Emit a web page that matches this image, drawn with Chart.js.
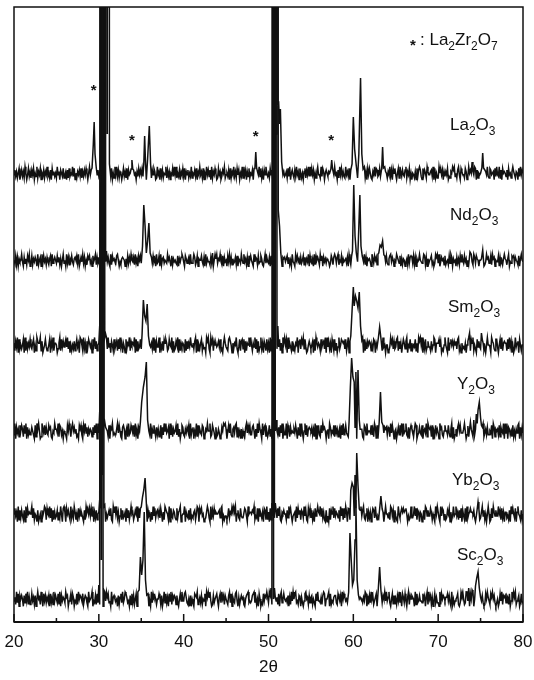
<!DOCTYPE html>
<html>
<head>
<meta charset="utf-8">
<script src="https://cdn.jsdelivr.net/npm/chart.js@4.4.0/dist/chart.umd.min.js"></script>
<style>
  html, body { margin: 0; padding: 0; background: #fff; }
</style>
</head>
<body>
<canvas id="xrdChart" width="534" height="680"></canvas>
<script>
// axis
const xTicks = [20, 30, 40, 50, 60, 70, 80];
const minorTicks = [25, 35, 45, 55, 65, 75];

// samples, top to bottom
const sampleNames = ['La2O3', 'Nd2O3', 'Sm2O3', 'Y2O3', 'Yb2O3', 'Sc2O3'];
const stackOffsets = [448, 361, 276, 190, 107, 22];
const noiseScale = [1.6, 1.5, 1.9, 1.9, 1.9, 1.8];

// La2Zr2O7 peaks marked with *
const starAngles = [29.4, 33.9, 48.5, 57.4];

// baseline noise, one digit every 0.1 deg from 20
const laNoise = `4736258147 3629514836 2748153926 4815372649 3527184635 2946175382 4617283549 3815264738 2637485159 4728163547
3518264937 2647381529 4937265148 3628174539 2745163847 4839261573 3527486129 4618372549 2736154839 4925371648
3816472539 2547381649 4628153947 3719264851 2846137592 4537182649 3628471539 2947163825 4718352649 3826174953
5284716394 3917258463 4628391574 2739461852 5168274939 3847152694 4293861575 3658127494 5172948363 2946381757
4381729564 3759261848 5216493873 4837152965 2649371858 4158296374 3792648151 5426183797 3184752964 4673918252
2958471636 4813265979 3527941864 4286139575 3649817254 5138276493 2874561839 4392718565 3718452696 4265183947 5`;
const ndNoise = `5382716459 4173628591 3826475192 5719384627 4268193575 3847261593 5193726484 2675839147 4937152868 3518469273
5286739145 4731928564 3895142676 5162837495 4729361858 3648192576 5273846193 4819267355 3957418264 5328164797
4186357293 3597248165 5842719364 4273815969 3659428174 5184937263 4728165395 3946271858 5319476283 4862159374
3718294656 5249381767 4683725194 3195846273 5827364918 4361928575 2958174636 5413862797 3792548164 4637195283
5281946375 3849271656 4196385729 5734162848 3268947515 4975381626 5146293787 3827164595 4359827163 5682413979
3914756282 4528397164 5173628495 3846152779 4297386515 5638124967 3482967154 4817352696 5269143878 3754281695 4`;
const smNoise = `6274918353 5819273648 4368152976 6927135842 3581749266 5136928474 6849371525 3725846198 5293617486 4618593725
6357281949 3946175283 5728394616 4183659275 6591827348 3827461595 5463928174 4915372868 6238549172 3759182646
5182736495 4637918253 6825341979 3196827564 5748231696 4328975163 6593148278 3817265949 5264938172 4936175283
6192837455 3748261969 5819364272 4265917838 6938412575 3571829646 5284673919 4736185282 6149358767 3825917464
5371648293 4918263757 6253871649 3687294515 5124968373 4892736158 6379154826 3548261979 5916382474 4273598166
6847132595 3192685747 5738924163 4361579828 6925318474 3786241595 5419763288 4158392676 6283947151 3946718525 5`;
const yNoise = `3917462858 6284917353 4753182969 5129648374 3867215496 6492873515 4318596279 5746231868 3185947264 6527384919
4963128576 5281769343 3694852178 6157293486 4829361758 5372846915 3916485273 6248173959 4571938264 5839261487
3264758193 6715392846 4387126595 5923864172 3641275989 6158493267 4892735161 5327948683 3785162949 6419378252
4826193757 5372849163 3918627454 6485173929 4159382676 5736291848 3284967515 6197354828 4625718393 5843269174
3579142866 6218739455 4836297181 5395184767 3762948515 6147385929 4593271686 5269813474 3815649297 6728153846
4196732585 5384269171 3627958444 6951382676 4273619858 5819246373 3548197265 6382754919 4917635282 5264891737 4`;
const ybNoise = `5846192737 4271938565 6938254171 3517469828 5493817263 4726395189 6185742936 3962518474 5317296858 4849163725
6283759415 3574821969 5936148273 4618372595 6247591838 3895263174 5162948367 4738516299 6529184376 3283679145
5916437282 4367259818 6845123697 3192748565 5673891424 4248365979 6915732843 3387419566 5769243818 4536187292
6182947357 3849216575 5273968414 4619385727 6394721858 3725184696 5948362171 4182759384 6537194828 3961842575
5428316979 4793258163 6158739424 3847261595 5362984717 4219536868 6785142393 3594827616 5137298474 4862531959
6319487252 3758162494 5946273817 4281935686 6573148292 3694725159 5128396474 4957283616 6342719585 3816954272 5`;
const scNoise = `4629381757 5173849262 3846271595 6295184736 4718362947 5382917465 3967145828 6143829576 4825763194 5691437283
3278516949 6834192675 4517268393 5986341728 3725819464 6349275181 4193867525 5862714938 3618492757 6273158494
4896325171 5318769246 3725481969 6941273558 4168395727 5527938164 3894162575 6215789343 4789362518 5132847696
3974285164 6281793585 4537162949 5893427616 3148956273 6725318494 4362798155 5918243677 3286471958 6453192784
4819273565 5364981727 3957246818 6128375949 4693158272 5274936186 3841692757 6519283474 4385716929 5726148363
3192857646 6847319252 4568213979 5239746185 3915682474 6473128596 4286957313 5138492767 3762814959 6924571383 4`;

// peaks [2theta, height above baseline]; 3000 = off scale
const laPeaks = [[29.2, 6], [29.35, 30], [29.45, 52], [29.55, 20], [29.7, 6],
  [30.4, 12], [30.5, 3000], [30.6, 40], [30.7, 3000], [30.8, 40], [30.9, 3000], [31.0, 40], [31.1, 3000], [31.25, 10],
  [33.8, 5], [33.9, 14], [34.0, 5],
  [35.3, 10], [35.4, 38], [35.5, 12], [35.75, 15], [35.95, 48], [36.1, 10],
  [48.4, 6], [48.5, 22], [48.6, 6],
  [50.6, 10], [50.75, 55], [50.9, 40], [51.0, 3000], [51.1, 70], [51.2, 71], [51.3, 50], [51.4, 65], [51.55, 12],
  [57.35, 5], [57.45, 14], [57.55, 5],
  [59.85, 10], [60.0, 57], [60.15, 25], [60.35, 8], [60.65, 20], [60.85, 96], [61.0, 20], [61.15, 5],
  [63.35, 6], [63.45, 27], [63.55, 6],
  [74.0, 12], [75.15, 6], [75.25, 21], [75.35, 6]];
const ndPeaks = [[30.2, 13], [30.5, 3000], [30.6, 40], [30.7, 3000], [30.9, 10],
  [35.15, 15], [35.3, 56], [35.45, 35], [35.6, 8], [35.75, 20], [35.9, 38], [36.05, 8],
  [43.4, 8],
  [50.7, 12], [50.85, 45], [51.0, 3000], [51.15, 51], [51.3, 35], [51.45, 8],
  [59.9, 10], [60.05, 76], [60.2, 25], [60.35, 8], [60.6, 22], [60.77, 66], [60.9, 15], [61.05, 5],
  [63.0, 8], [63.15, 16], [63.3, 14], [63.45, 20], [63.6, 6],
  [73.75, 9], [75.25, 11]];
const smPeaks = [[30.1, 20], [30.4, 3000], [30.5, 40], [30.6, 3000], [30.8, 12],
  [35.1, 12], [35.25, 46], [35.4, 30], [35.55, 25], [35.7, 42], [35.85, 10],
  [50.7, 15], [50.9, 3000], [51.1, 20],
  [59.7, 10], [59.85, 35], [60.0, 59], [60.1, 40], [60.25, 50], [60.4, 45], [60.55, 38], [60.7, 54], [60.85, 20], [61.0, 6],
  [62.95, 8], [63.1, 19], [63.25, 8],
  [73.7, 13], [75.1, 13]];
const yPeaks = [[30.1, 20], [30.4, 3000], [30.45, 40], [30.5, 3000], [30.7, 10],
  [34.9, 10], [35.05, 30], [35.25, 45], [35.45, 55], [35.6, 70], [35.75, 12],
  [50.5, 12], [50.7, 3000], [50.9, 12],
  [59.5, 10], [59.65, 45], [59.8, 74], [59.95, 55], [60.1, 50], [60.3, 60], [60.55, 62], [60.7, 12],
  [63.05, 10], [63.2, 40], [63.35, 10],
  [73.5, 6], [73.8, 10], [74.2, 12], [74.5, 18], [74.7, 22], [74.85, 30], [75.0, 14], [75.2, 5]];
const ybPeaks = [[30.1, 15], [30.3, 3000], [30.4, 40], [30.5, 3000], [30.7, 10],
  [35.0, 8], [35.15, 18], [35.3, 25], [35.45, 37], [35.6, 12],
  [50.4, 12], [50.6, 3000], [50.8, 12],
  [59.5, 6], [59.7, 25], [59.85, 32], [60.0, 28], [60.2, 40], [60.4, 62], [60.55, 30], [60.7, 6],
  [63.1, 6], [63.25, 19], [63.4, 6],
  [74.6, 6], [74.7, 13], [74.8, 6]];
const scPeaks = [[30.0, 15], [30.2, 3000], [30.3, 40], [30.4, 3000], [30.6, 10],
  [34.75, 10], [34.9, 43], [35.05, 25], [35.2, 40], [35.35, 88], [35.5, 20], [35.65, 5],
  [50.3, 12], [50.5, 3000], [50.7, 12],
  [59.45, 8], [59.6, 67], [59.75, 40], [59.9, 15], [60.05, 20], [60.2, 60], [60.3, 100], [60.45, 20], [60.6, 5],
  [62.95, 12], [63.1, 33], [63.25, 10],
  [73.4, 8], [73.6, 12], [74.0, 10], [74.4, 14], [74.55, 22], [74.7, 28], [74.85, 12]];

const noiseList = [laNoise, ndNoise, smNoise, yNoise, ybNoise, scNoise];
const peakList = [laPeaks, ndPeaks, smPeaks, yPeaks, ybPeaks, scPeaks];

function buildTrace(noise, scale, offset, peaks) {
  const digits = noise.replace(/\s/g, '');
  const pts = [];
  for (let i = 0; i < digits.length; i++) {
    const t = 20 + i * 0.1;
    if (peaks.some(p => Math.abs(p[0] - t) < 0.08)) continue;
    pts.push({ x: t, y: offset + (Number(digits[i]) - 4.5) * scale });
  }
  peaks.forEach(p => pts.push({ x: p[0], y: offset + p[1] }));
  pts.sort((a, b) => a.x - b.x);
  return pts;
}

const datasets = sampleNames.map((name, i) => ({
  label: name,
  data: buildTrace(noiseList[i], noiseScale[i], stackOffsets[i], peakList[i]),
  borderColor: '#111',
  borderWidth: 1.5,
  pointRadius: 0,
  tension: 0,
  fill: false
}));

// draws "La2O3" style text with digits as subscripts
function drawFormula(ctx, text, x, y, size) {
  let cx = x;
  for (const ch of text) {
    const sub = ch >= '0' && ch <= '9';
    ctx.font = (sub ? Math.round(size * 0.7) : size) + 'px Arial, "Liberation Sans", sans-serif';
    ctx.fillText(ch, cx, sub ? y + size * 0.28 : y);
    cx += ctx.measureText(ch).width;
  }
}

const labelPos = [[450, 130], [450, 220], [448, 312], [457, 389], [452, 485], [457, 560]];
const starY = [87, 137, 133, 137];

const framePlugin = {
  id: 'frame',
  afterDraw(chart) {
    const { ctx, chartArea: a, scales: { x } } = chart;
    ctx.save();
    ctx.strokeStyle = '#111';
    ctx.lineWidth = 1.5;
    ctx.strokeRect(a.left, a.top, a.right - a.left, a.bottom - a.top);
    ctx.lineWidth = 2;
    ctx.beginPath();
    ctx.moveTo(a.left, a.bottom);
    ctx.lineTo(a.right, a.bottom);
    ctx.stroke();

    ctx.lineWidth = 1.5;
    ctx.beginPath();
    xTicks.forEach(v => {
      const px = x.getPixelForValue(v);
      ctx.moveTo(px, a.bottom);
      ctx.lineTo(px, a.bottom - 8);
    });
    minorTicks.forEach(v => {
      const px = x.getPixelForValue(v);
      ctx.moveTo(px, a.bottom);
      ctx.lineTo(px, a.bottom - 4);
    });
    ctx.stroke();

    ctx.fillStyle = '#111';
    ctx.textAlign = 'left';
    ctx.textBaseline = 'alphabetic';
    sampleNames.forEach((name, i) => {
      drawFormula(ctx, name, labelPos[i][0], labelPos[i][1], 17);
    });
    drawFormula(ctx, ': La2Zr2O7', 420, 45, 17);

    ctx.textAlign = 'center';
    ctx.font = 'bold 15px Arial, "Liberation Sans", sans-serif';
    ctx.fillText('*', 413, 50);
    starAngles.forEach((t, i) => {
      ctx.fillText('*', x.getPixelForValue(t), starY[i] + 8);
    });
    ctx.restore();
  }
};

new Chart(document.getElementById('xrdChart').getContext('2d'), {
  type: 'line',
  data: { datasets },
  options: {
    responsive: false,
    animation: false,
    layout: { padding: { left: 14, right: 11, top: 7, bottom: 0 } },
    plugins: { legend: { display: false }, tooltip: { enabled: false } },
    scales: {
      x: {
        type: 'linear',
        min: 20,
        max: 80,
        afterBuildTicks: s => { s.ticks = xTicks.map(v => ({ value: v })); },
        afterFit: s => { s.height = 58; s.paddingLeft = 0; s.paddingRight = 0; },
        ticks: { color: '#111', padding: 10, maxRotation: 0, font: { size: 17, family: 'Arial, "Liberation Sans", sans-serif' } },
        grid: { display: false, drawTicks: false },
        border: { display: false },
        title: { display: true, text: '2θ', color: '#111', padding: { top: 0, bottom: 2 }, font: { size: 17, family: 'Arial, "Liberation Sans", sans-serif' } }
      },
      y: { type: 'linear', min: 0, max: 615, display: false }
    }
  },
  plugins: [framePlugin]
});
</script>
</body>
</html>
